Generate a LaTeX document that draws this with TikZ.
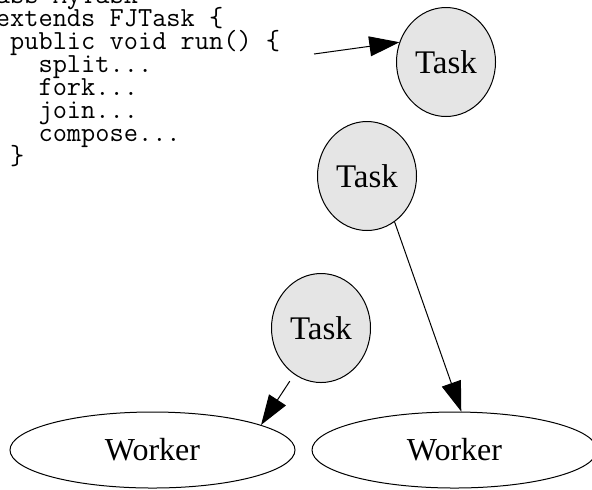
\documentclass[tikz,border=0pt]{standalone}
\usepackage{fontspec}
\setmainfont{Liberation Serif}
\usetikzlibrary{arrows.meta, shapes.geometric, positioning}

\tikzset{
  task/.style={ellipse, draw, fill=gray!20, minimum width=49.5pt,
    minimum height=54.5pt, inner sep=0pt, font=\fontsize{16.5}{19}\selectfont},
  worker/.style={ellipse, draw, minimum width=142.5pt,
    minimum height=38pt, inner sep=0pt, font=\fontsize{16}{19}\selectfont},
  code/.style={anchor=north west, inner sep=0pt, align=left,
    font={\ttfamily\fontsize{13.8}{11.5}\selectfont\setlength{\lineskiplimit}{-20pt}}},
  arr/.style={-{Triangle[length=15pt, width=10pt]}}
}

\begin{document}
\begin{tikzpicture}[x=0.5pt, y=-0.5pt, line width=0.5pt]
\useasboundingbox (0,0) rectangle (592,489);

% the code on the left
\node[code] (code) at (-33,-14) {class MyTask\\
  \phantom{cl}extends FJTask \{\\
  \phantom{cla}public void run() \{\\
  \phantom{class}split...\\
  \phantom{class}fork...\\
  \phantom{class}join...\\
  \phantom{class}compose...\\
  \phantom{cla}\}};
\coordinate (codeout) at (314,54);

% tasks and workers
\node[task] (t1) at (446,62)  {Task};
\node[task] (t2) at (367,176) {Task};
\node[task] (t3) at (321,328) {Task};

\node[worker] (w1) at (152.5,450) {Worker};
\node[worker] (w2) at (454.5,450) {Worker};

\draw[arr] (codeout) -- (t1.157);
\draw[arr] (t2.301) -- (w2.80);
\draw[arr, shorten <=4pt] (t3.240) -- (w1.13);
\end{tikzpicture}
\end{document}
